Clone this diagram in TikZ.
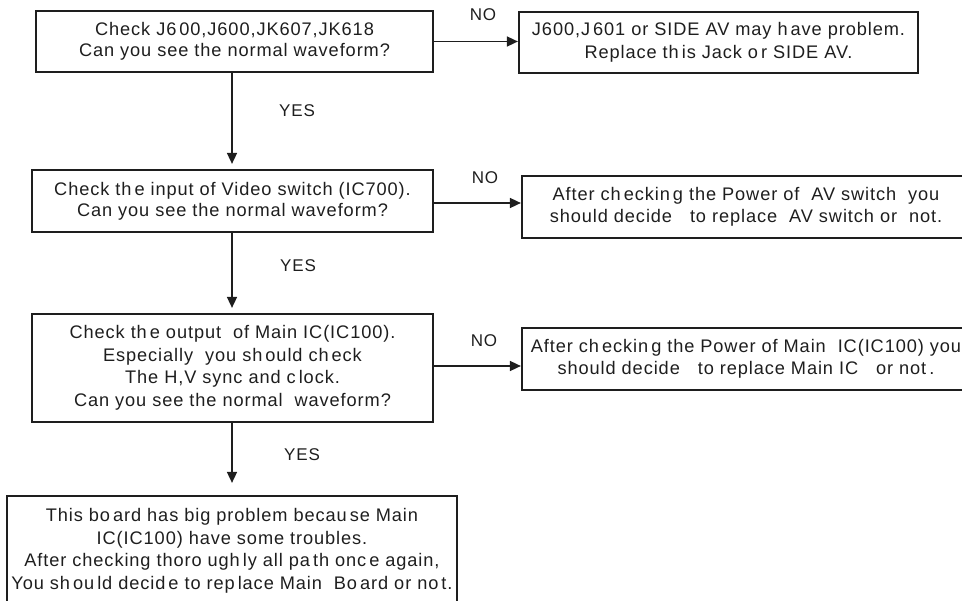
\documentclass[tikz,border=0pt]{standalone}
\usepackage{fontspec}
\setmainfont{Liberation Sans}[LetterSpace=5]
\usetikzlibrary{arrows.meta}
\definecolor{ink}{HTML}{1E1E1E}
\begin{document}
\begin{tikzpicture}[x=1pt,y=-1pt,
  box/.style={draw=ink, line width=2.2pt, rectangle, inner sep=0pt, align=center,
    font=\fontsize{18.2}{22.5}\selectfont, text=ink},
  arr/.style={draw=ink, line width=1.6pt, -{Triangle[length=11pt,width=10pt]}},
  lbl/.style={font=\fontsize{17}{20}\selectfont, text=ink, inner sep=0pt}]
\useasboundingbox (0,0) rectangle (962,601);
\clip (0,0) rectangle (962,601);
% left column
\node[box, minimum width=397pt, minimum height=61pt] (b1) at (234.5,41.5)
  {Check J6\,00,J600,JK607,JK618\\[-1.5pt]Can you see the normal waveform?};
\node[box, minimum width=401pt, minimum height=62pt] (b2) at (232.5,201)
  {Check th\,e input of Video switch (IC700).\\[-1.5pt]Can you see the normal waveform?};
\node[box, minimum width=401pt, minimum height=108pt] (b3) at (232.5,368)
  {Check th\,e output\ \ of Main IC(IC100).\\Especially\ \ you sh\,ould ch\,eck\\The H,V sync and c\,lock.\\Can you see the normal\ \ waveform?};
\node[box, minimum width=450pt, minimum height=110pt] (b4) at (232,551)
  {This bo\,ard has big problem becau\,se Main\\IC(IC100) have some troubles.\\After checking thoro ugh\,ly all pa\,th onc\,e again,\\You sh\,ou\,ld decid\,e to rep\,lace Main\ \ Bo\,ard or no\,t.};
% right column
\node[box, minimum width=399pt, minimum height=61pt] (r1) at (718.5,42.5)
  {J600,J\,601 or SIDE AV may h\,ave problem.\\Replace th\,is Jack o\,r SIDE AV.};
\node[box, minimum width=448pt, minimum height=62pt] (r2) at (746,207)
  {After ch\,eckin\,g the Power of\ \ AV switch\ \ you\\should decide\ \ \ to replace\ \ AV switch or\ \ not.};
\node[box, minimum width=448pt, minimum height=62pt] (r3) at (746,359)
  {After ch\,eckin\,g the Power of Main\ \ IC(IC100) you\\should decide\ \ \ to replace Main IC\ \ \ or not\,.};
% connectors
\coordinate (c1) at (232,72);
\coordinate (c2) at (232,232);
\coordinate (c3) at (232,422);
\draw[arr, shorten >=5pt] (c1) -- (c1 |- b2.north);
\draw[arr, shorten >=5pt] (c2) -- (c2 |- b3.north);
\draw[arr, shorten >=12pt] (c3) -- (c3 |- b4.north);
\draw[arr] (b1.east) -- (b1.east -| r1.west);
\draw[arr] ([yshift=-2pt]b2.east) -- ([yshift=-2pt]b2.east -| r2.west);
\draw[arr] ([yshift=2pt]b3.east) -- ([yshift=2pt]b3.east -| r3.west);
% labels
\node[lbl] (n1) at (483,15) {NO};
\node[lbl] (n2) at (485,178) {NO};
\node[lbl] (n3) at (484,341) {NO};
\node[lbl] (y1) at (297,111) {YES};
\node[lbl] (y2) at (298,266) {YES};
\node[lbl] (y3) at (302,455) {YES};
\end{tikzpicture}
\end{document}
